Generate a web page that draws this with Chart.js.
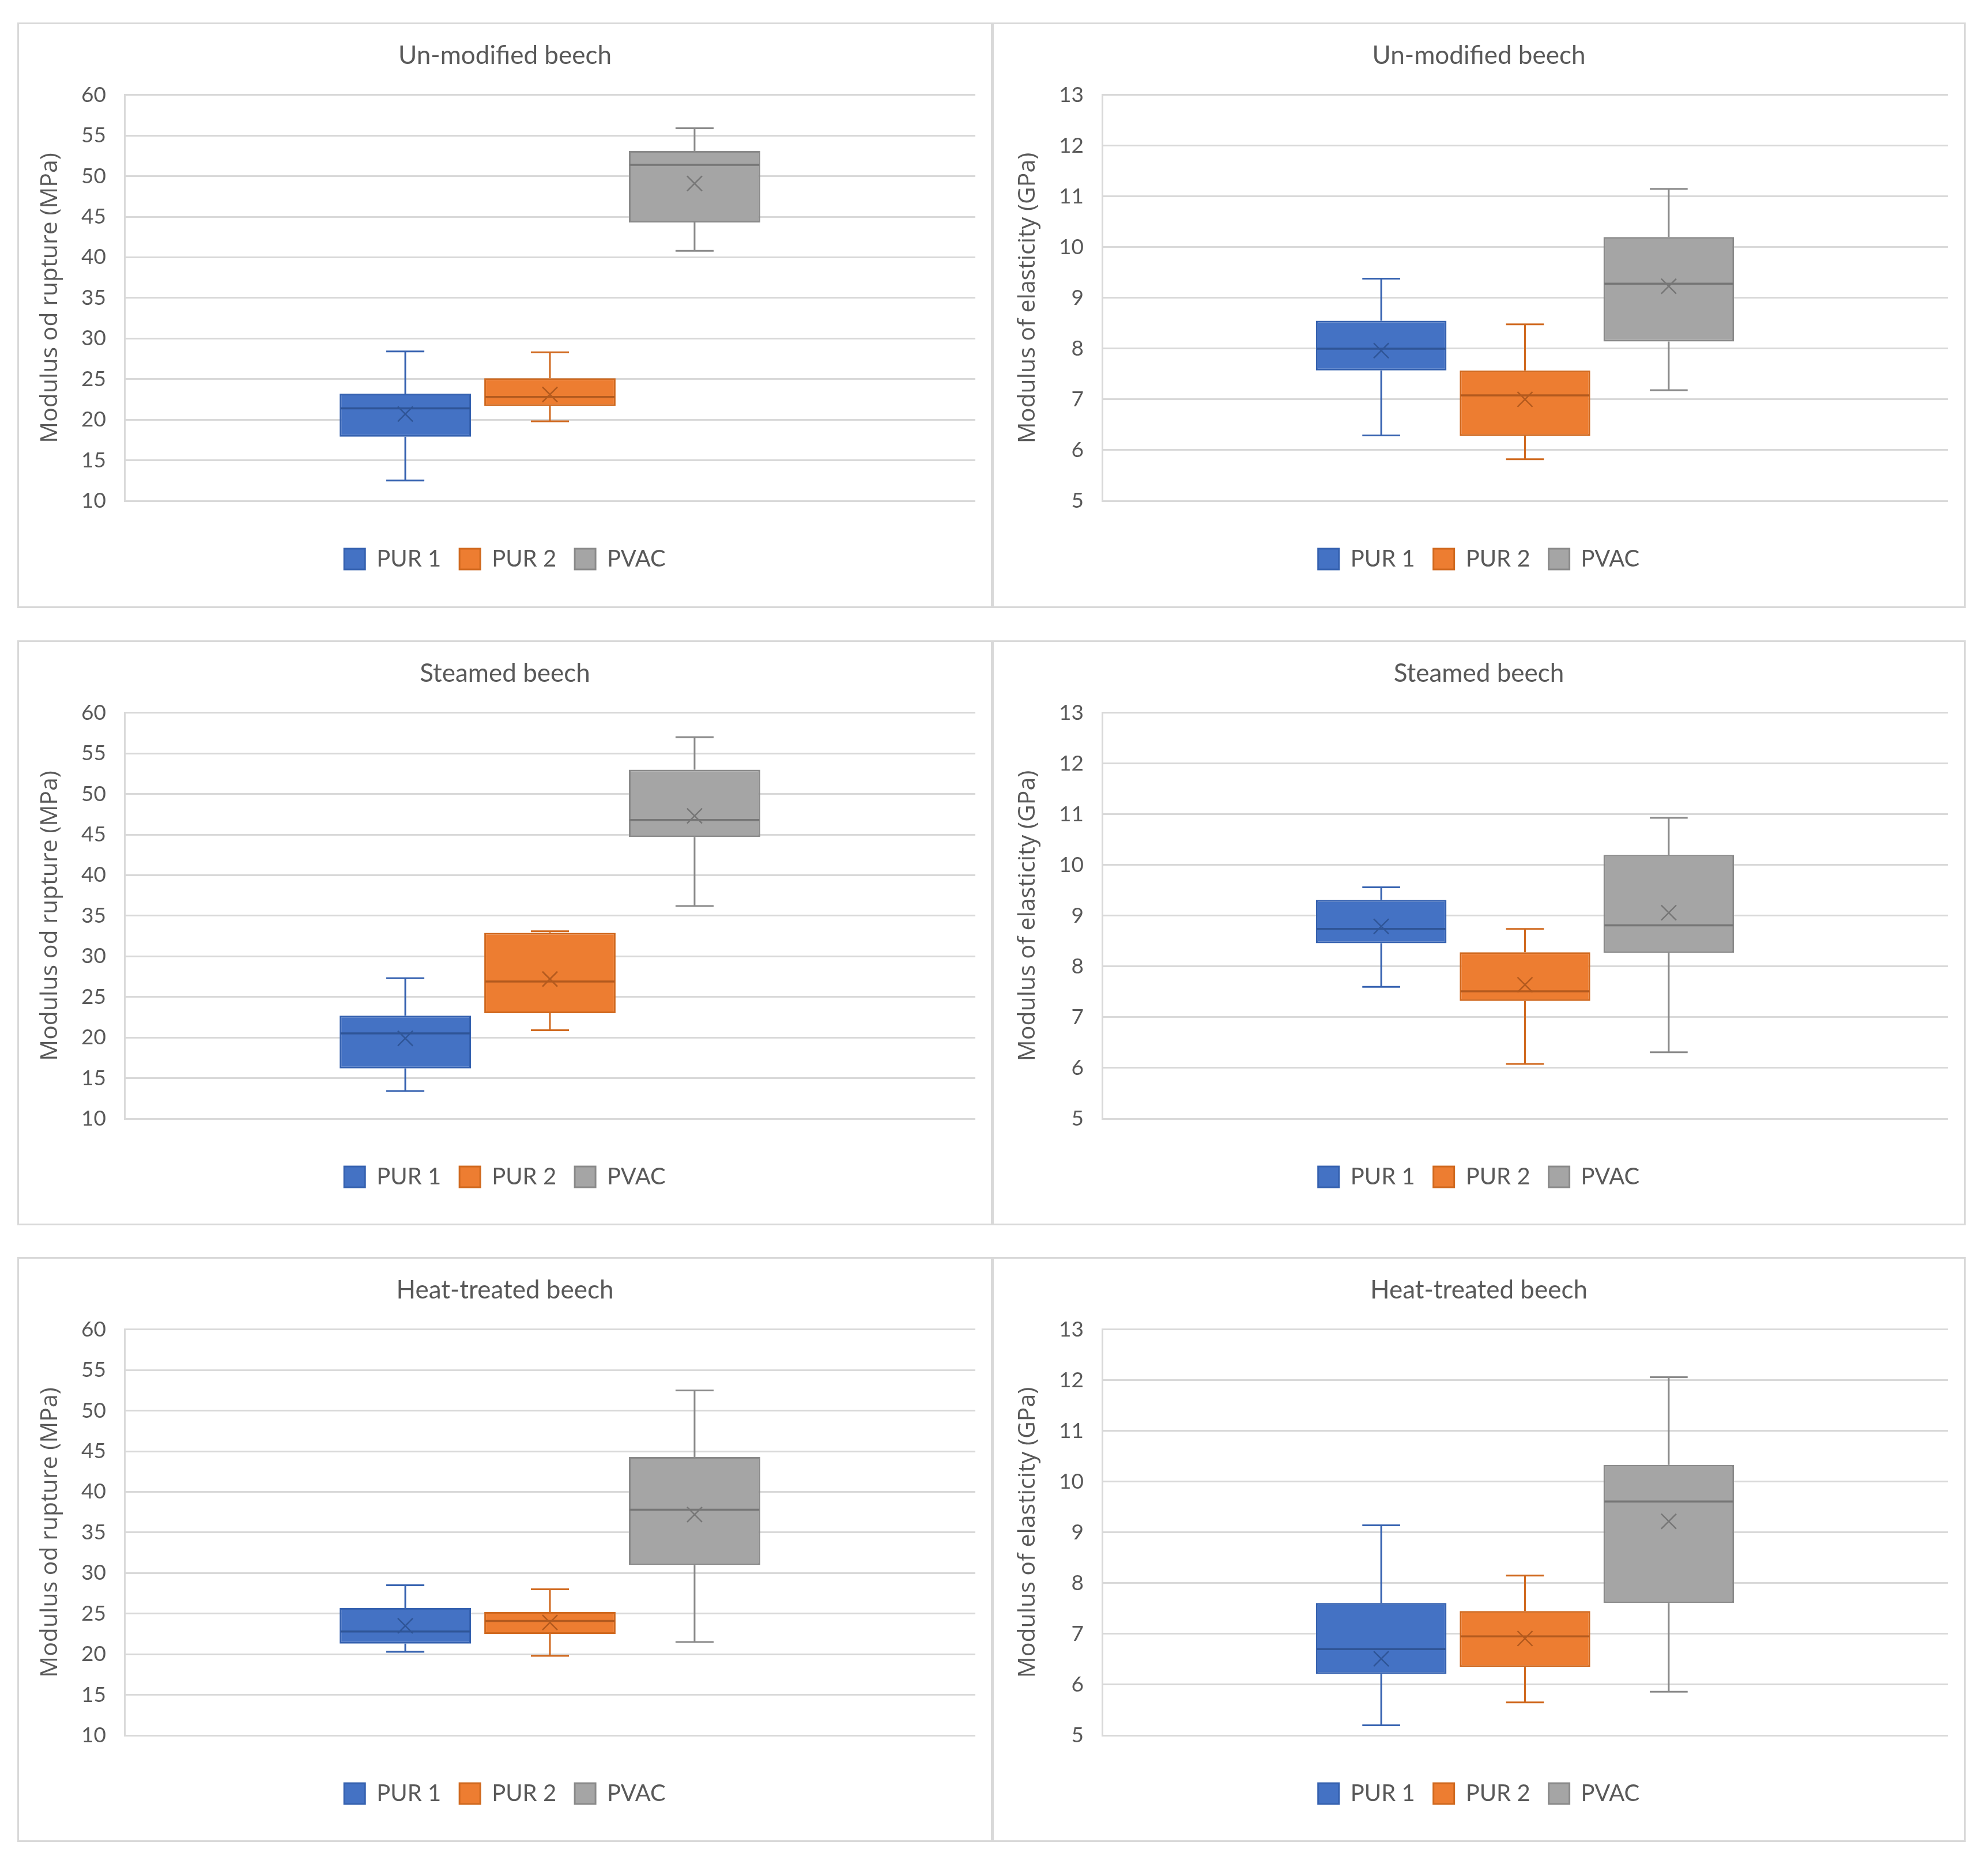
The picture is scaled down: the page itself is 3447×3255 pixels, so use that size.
<!DOCTYPE html>
<html>
<head>
<meta charset="utf-8">
<script src="https://cdn.jsdelivr.net/npm/chart.js@4.4.1/dist/chart.umd.min.js"></script>
<style>
html,body{margin:0;padding:0;background:#ffffff;}
body{width:3447px;height:3255px;position:relative;overflow:hidden;}
.panel{position:absolute;box-sizing:border-box;border:3px solid #D9D9D9;background:#ffffff;}
.panel canvas{display:block;}
</style>
</head>
<body>
<div id="p0" class="panel"></div>
<div id="p1" class="panel"></div>
<div id="p2" class="panel"></div>
<div id="p3" class="panel"></div>
<div id="p4" class="panel"></div>
<div id="p5" class="panel"></div>
<script>
// ---------- categories / series ----------
const groups = ['PUR 1', 'PUR 2', 'PVAC'];

// Un-modified beech, modulus of rupture (MPa)
const unmodMorMin  = [12.5, 19.8, 40.8];
const unmodMorQ1   = [17.9, 21.7, 44.3];
const unmodMorMed  = [21.4, 22.8, 51.4];
const unmodMorQ3   = [23.2, 25.1, 53.1];
const unmodMorMax  = [28.4, 28.3, 55.9];
const unmodMorMean = [20.7, 23.1, 49.1];

// Un-modified beech, modulus of elasticity (GPa)
const unmodMoeMin  = [6.29, 5.82, 7.18];
const unmodMoeQ1   = [7.57, 6.28, 8.14];
const unmodMoeMed  = [8.00, 7.08, 9.28];
const unmodMoeQ3   = [8.55, 7.57, 10.20];
const unmodMoeMax  = [9.38, 8.48, 11.15];
const unmodMoeMean = [7.96, 7.00, 9.23];

// Steamed beech, modulus of rupture (MPa)
const steamMorMin  = [13.4, 20.9, 36.2];
const steamMorQ1   = [16.2, 23.0, 44.7];
const steamMorMed  = [20.5, 26.9, 46.8];
const steamMorQ3   = [22.7, 32.9, 53.0];
const steamMorMax  = [27.3, 33.1, 57.0];
const steamMorMean = [19.9, 27.2, 47.3];

// Steamed beech, modulus of elasticity (GPa)
const steamMoeMin  = [7.60, 6.08, 6.31];
const steamMoeQ1   = [8.46, 7.32, 8.27];
const steamMoeMed  = [8.74, 7.51, 8.81];
const steamMoeQ3   = [9.31, 8.28, 10.20];
const steamMoeMax  = [9.56, 8.74, 10.93];
const steamMoeMean = [8.79, 7.64, 9.06];

// Heat-treated beech, modulus of rupture (MPa)
const heatMorMin  = [20.3, 19.8, 21.5];
const heatMorQ1   = [21.3, 22.5, 31.0];
const heatMorMed  = [22.8, 24.1, 37.8];
const heatMorQ3   = [25.7, 25.2, 44.3];
const heatMorMax  = [28.5, 28.0, 52.5];
const heatMorMean = [23.5, 23.9, 37.2];

// Heat-treated beech, modulus of elasticity (GPa)
const heatMoeMin  = [5.20, 5.65, 5.86];
const heatMoeQ1   = [6.21, 6.35, 7.61];
const heatMoeMed  = [6.70, 6.95, 9.61];
const heatMoeQ3   = [7.61, 7.45, 10.33];
const heatMoeMax  = [9.14, 8.15, 12.06];
const heatMoeMean = [6.51, 6.91, 9.22];

// titles / axis titles / axis ranges
const panelTitles = ['Un-modified beech', 'Un-modified beech', 'Steamed beech', 'Steamed beech', 'Heat-treated beech', 'Heat-treated beech'];
const morAxisTitle = 'Modulus od rupture (MPa)';
const moeAxisTitle = 'Modulus of elasticity (GPa)';
const morTicks = [10, 60, 5];   // min, max, step
const moeTicks = [5, 13, 1];

// ---------- styles ----------
const fillColors   = ['#4472C4', '#ED7D31', '#A5A5A5'];
const borderColors = ['#3662B0', '#D0691F', '#8A8A8A'];
const medianColors = ['#2F5597', '#B35A1E', '#767676'];
const textColor = '#595959';
const gridColor = '#D9D9D9';

Chart.defaults.font.family = 'Lato, "Noto Sans", sans-serif';

const boxWhiskerPlugin = {
  id: 'boxWhisker',
  afterDatasetsDraw(chart) {
    const ctx = chart.ctx;
    const ys = chart.scales.y;
    chart.data.datasets.forEach((ds, i) => {
      const meta = chart.getDatasetMeta(i);
      if (meta.hidden) return;
      meta.data.forEach((bar, j) => {
        const p = bar.getProps(['x', 'width'], true);
        const x = p.x, w = p.width;
        const yQ1 = ys.getPixelForValue(ds.data[j][0]);
        const yQ3 = ys.getPixelForValue(ds.data[j][1]);
        const yMin = ys.getPixelForValue(ds.statMin[j]);
        const yMax = ys.getPixelForValue(ds.statMax[j]);
        const yMed = ys.getPixelForValue(ds.statMed[j]);
        const yMean = ys.getPixelForValue(ds.statMean[j]);
        const cap = w * 0.29;
        ctx.save();
        ctx.strokeStyle = ds.borderColor;
        ctx.lineWidth = 3;
        ctx.lineCap = 'butt';
        ctx.beginPath();
        ctx.moveTo(x, yQ3); ctx.lineTo(x, yMax);
        ctx.moveTo(x - cap / 2, yMax); ctx.lineTo(x + cap / 2, yMax);
        ctx.moveTo(x, yQ1); ctx.lineTo(x, yMin);
        ctx.moveTo(x - cap / 2, yMin); ctx.lineTo(x + cap / 2, yMin);
        ctx.stroke();
        // median
        ctx.strokeStyle = ds.medianColor;
        ctx.lineWidth = 3.5;
        ctx.beginPath();
        ctx.moveTo(x - w / 2 + 1.5, yMed); ctx.lineTo(x + w / 2 - 1.5, yMed);
        ctx.stroke();
        // mean marker (x)
        const h = 13;
        ctx.lineWidth = 2.5;
        ctx.beginPath();
        ctx.moveTo(x - h, yMean - h); ctx.lineTo(x + h, yMean + h);
        ctx.moveTo(x + h, yMean - h); ctx.lineTo(x - h, yMean + h);
        ctx.stroke();
        ctx.restore();
      });
    });
  }
};

function makeChart(cfg) {
  const el = document.getElementById(cfg.id);
  el.style.left = cfg.x + 'px';
  el.style.top = cfg.y + 'px';
  el.style.width = cfg.w + 'px';
  el.style.height = cfg.h + 'px';
  const cw = cfg.w - 6, ch = cfg.h - 6;
  const canvas = document.createElement('canvas');
  canvas.width = cw; canvas.height = ch;
  canvas.style.width = cw + 'px'; canvas.style.height = ch + 'px';
  el.appendChild(canvas);

  const datasets = groups.map((g, i) => ({
    label: g,
    data: [[cfg.q1[i], cfg.q3[i]]],
    backgroundColor: fillColors[i],
    borderColor: borderColors[i],
    medianColor: medianColors[i],
    borderWidth: 3,
    borderSkipped: false,
    statMin: [cfg.min[i]],
    statMax: [cfg.max[i]],
    statMed: [cfg.med[i]],
    statMean: [cfg.mean[i]]
  }));

  new Chart(canvas, {
    type: 'bar',
    data: { labels: [''], datasets },
    options: {
      responsive: false,
      animation: false,
      devicePixelRatio: 1,
      layout: { padding: { left: cfg.pad, right: cfg.pad, top: 0, bottom: cfg.h - 6 - 827 - 49 - 82 } },
      datasets: { bar: { categoryPercentage: 0.51, barPercentage: 0.908 } },
      scales: {
        x: {
          display: true,
          grid: { display: false },
          border: { display: false },
          ticks: { display: false },
          afterFit: (s) => { s.height = 49; }
        },
        y: {
          min: cfg.ticks[0], max: cfg.ticks[1],
          ticks: { stepSize: cfg.ticks[2], color: textColor, padding: 32,
                   font: { family: 'Lato', size: 37 } },
          grid: { color: gridColor, lineWidth: 3, drawTicks: false },
          border: { display: true, color: gridColor, width: 3 },
          title: { display: true, text: cfg.axisTitle, color: textColor,
                   font: { family: '"Open Sans"', size: 41, weight: 'normal' },
                   padding: { top: cfg.titlePad, bottom: 0 } },
          afterFit: (s) => { s.width = cfg.axisW; }
        }
      },
      plugins: {
        title: { display: true, text: cfg.title, color: textColor,
                 font: { family: 'Lato', size: 44, weight: 'normal' },
                 padding: { top: 28, bottom: 42 } },
        legend: { position: 'bottom',
                  labels: { boxWidth: 36, boxHeight: 36, padding: 32, color: textColor,
                            font: { family: 'Lato', size: 40 } } },
        tooltip: { enabled: false }
      }
    },
    plugins: [boxWhiskerPlugin]
  });
}

const colX = [30, 1721], colW = [1692, 1689];
const rowY = [39, 1111, 2181], rowH = [1016, 1015, 1015];

const panelData = [
  [unmodMorMin, unmodMorQ1, unmodMorMed, unmodMorQ3, unmodMorMax, unmodMorMean],
  [unmodMoeMin, unmodMoeQ1, unmodMoeMed, unmodMoeQ3, unmodMoeMax, unmodMoeMean],
  [steamMorMin, steamMorQ1, steamMorMed, steamMorQ3, steamMorMax, steamMorMean],
  [steamMoeMin, steamMoeQ1, steamMoeMed, steamMoeQ3, steamMoeMax, steamMoeMean],
  [heatMorMin, heatMorQ1, heatMorMed, heatMorQ3, heatMorMax, heatMorMean],
  [heatMoeMin, heatMoeQ1, heatMoeMed, heatMoeQ3, heatMoeMax, heatMoeMean]
];

panelData.forEach((d, k) => {
  const col = k % 2, row = Math.floor(k / 2);
  makeChart({
    id: 'p' + k,
    x: colX[col], y: rowY[row], w: colW[col], h: rowH[row],
    title: panelTitles[k],
    axisTitle: col === 0 ? morAxisTitle : moeAxisTitle,
    ticks: col === 0 ? morTicks : moeTicks,
    pad: col === 0 ? 27 : 28,
    axisW: col === 0 ? 156 : 160,
    titlePad: col === 0 ? 3 : 7,
    min: d[0], q1: d[1], med: d[2], q3: d[3], max: d[4], mean: d[5]
  });
});
</script>
</body>
</html>
